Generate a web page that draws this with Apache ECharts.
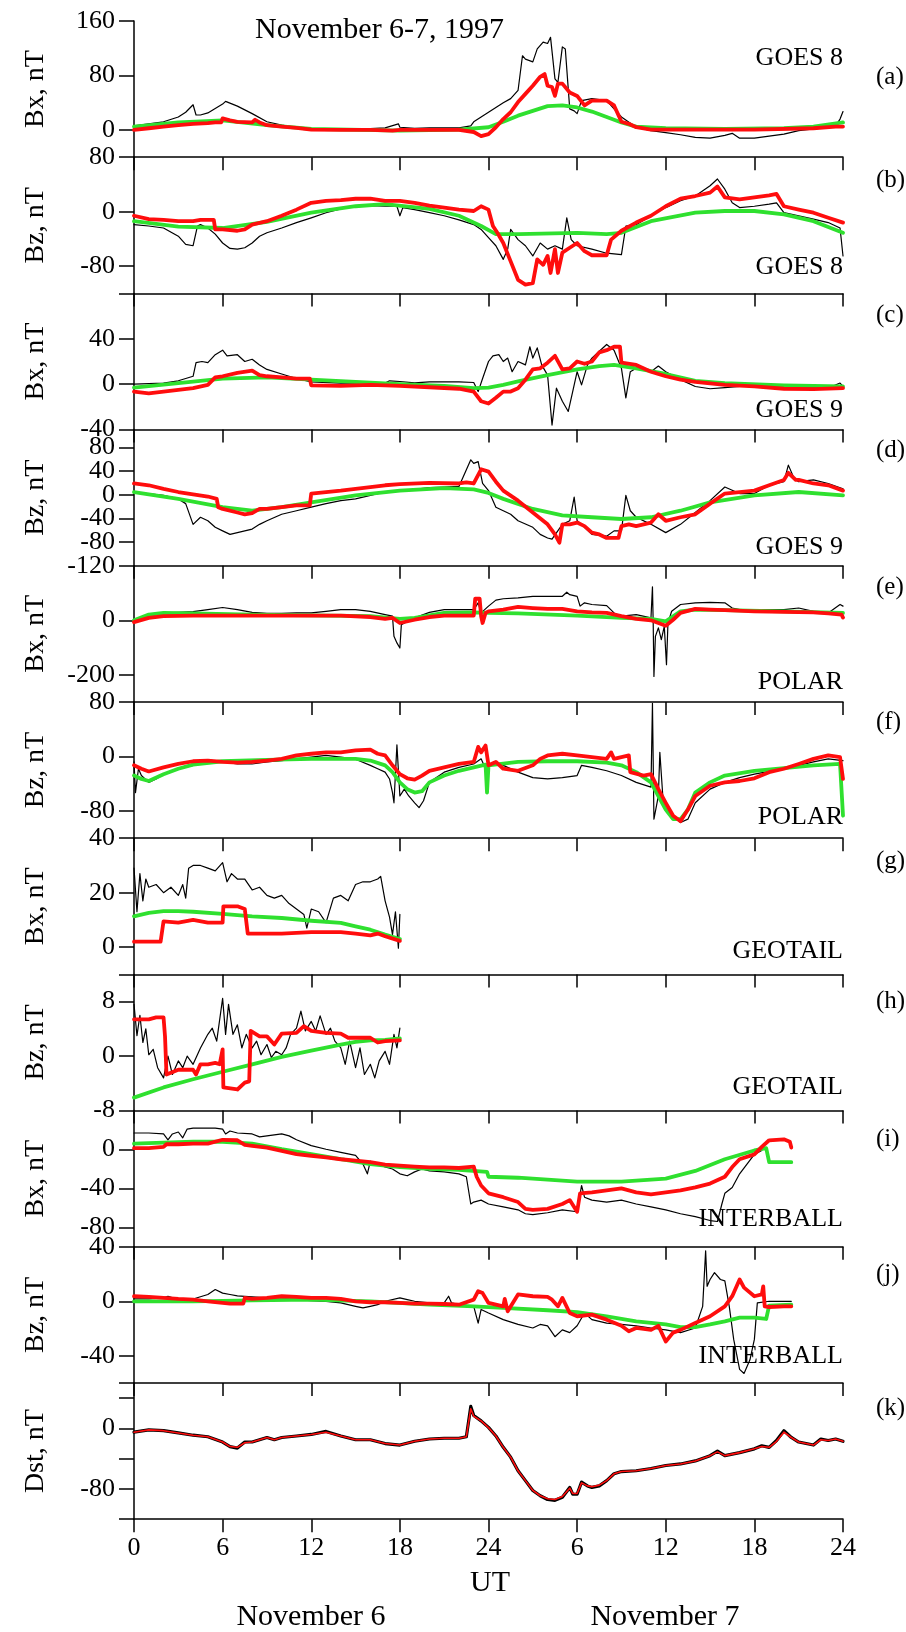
<!DOCTYPE html>
<html><head><meta charset="utf-8">
<script src="https://cdn.jsdelivr.net/npm/echarts@6/dist/echarts.min.js"></script>
<style>html,body{margin:0;padding:0;background:#fff}#c{width:906px;height:1632px}</style>
</head><body><div id="c"></div>
<script>
// ---------- x axis (hours since Nov 6 00 UT) ----------
const xTicks = [0,6,12,18,24,30,36,42,48];
const xTickLabels = ['0','6','12','18','24','6','12','18','24'];

// ---------- (a) GOES 8 Bx ----------
const aTicks = [160,80,0];
const aObs = [[0,6],[1,9],[2,12],[3,19],[3.5,26],[4,37],[4.2,22],[4.5,22],[5,25],[6,38],[6.2,42],[7,35],[8,24],[9,12],[10,7],[11,4],[12,1.5],[13,1.5],[14,1.5],[15,2],[16,2],[17,3],[17.9,9],[18,4],[19,2.5],[20,3],[21,3],[22,3],[22.8,6],[23,12],[23.5,19],[24,26],[24.5,33],[25,40],[25.5,46],[26,58],[26.3,109],[26.5,104],[27,100],[27.3,119],[27.7,129],[28,127],[28.2,136],[28.5,75],[28.7,70],[29,122],[29.2,119],[29.5,31],[29.8,28],[30,24],[30.3,43],[31,46],[32,43],[33,19],[34,4],[35,-1],[36,-4],[37,-7],[38,-11],[39,-12],[40,-8],[40.5,-5],[41,-12],[42,-12],[43,-9],[44,-6],[45,-1],[46,1.5],[47,4],[47.5,6],[47.8,16],[48,27]];
const aM1 = [[0,0],[1,2.5],[2,5],[3,7],[4,9],[5,10],[5.5,11],[5.9,11],[6,17],[6.5,14],[7,12],[8,11],[8.2,15],[8.5,11],[9,7],[10,5],[11,3],[12,0.5],[14,0],[16,0],[17.5,-1],[18,0],[20,0],[22,0],[23,-3],[23.5,-9],[24,-6],[24.5,4],[25,16],[25.5,26],[26,41],[26.5,53],[27,65],[27.5,78],[27.8,82],[28,65],[28.3,63],[28.5,50],[28.7,68],[29,68],[29.5,55],[30,50],[30.5,36],[31,43],[32,43],[32.5,36],[33,12],[33.5,9],[34,4],[35,0.5],[38,0.5],[42,0.5],[46,2.5],[47.5,5],[48,5]];
const aM2 = [[0,5],[3,11],[6,14],[9,7],[12,1.5],[18,-1],[22,0.5],[24,4],[25,12],[26,21],[27,28],[28,35],[29,36],[30,33],[31,27],[32,19],[33,11],[34,5],[36,2.5],[40,1.5],[44,2.5],[46,5],[48,11]];

// ---------- (b) GOES 8 Bz ----------
const bTicks = [80,0,-80];
const bObs = [[0,-19],[1,-21],[2,-24],[3,-36],[3.5,-48],[4,-50],[4.3,-21],[4.5,-19],[5,-24],[5.5,-33],[6,-46],[6.5,-54],[7,-55],[7.5,-53],[8,-46],[8.5,-36],[9,-31],[10,-24],[11,-16],[12,-9],[13,-1.5],[14,4],[15,8],[16,9],[17,8],[17.8,8],[18,-6],[18.2,6],[19,3],[20,-1.5],[21,-6],[22,-12],[23,-19],[23.5,-26],[24,-38],[24.5,-50],[25,-70],[25.3,-55],[25.5,-26],[26,-41],[26.5,-50],[27,-65],[27.5,-46],[28,-55],[28.5,-50],[29,-55],[29.3,-9],[29.6,-41],[30,-50],[31,-55],[32,-61],[33,-63],[33.3,-21],[34,-19],[35,-6],[36,6],[37,16],[38,23],[39,38],[39.5,48],[40,33],[40.5,13],[41,6],[42,8],[43,11],[43.5,13],[44,-1.5],[45,-6],[46,-11],[47,-16],[47.8,-24],[48,-65]];
const bM1 = [[0,-6],[1,-11],[2,-12],[3,-14],[4,-14],[4.5,-12],[5.4,-12],[5.5,-26],[6,-26],[7,-28],[7.5,-26],[8,-19],[9,-14],[10,-6],[11,3],[12,13],[13,16],[14,17],[15,19],[16,19],[17,16],[18,16],[19,13],[20,9],[21,6],[22,3],[23,1],[23.5,8],[24,3],[24.3,-21],[24.6,-31],[25,-46],[25.5,-73],[26,-100],[26.5,-107],[27,-105],[27.3,-70],[27.7,-78],[28,-65],[28.2,-90],[28.5,-55],[28.7,-90],[29,-60],[29.5,-53],[30,-46],[30.5,-58],[31,-64],[32,-64],[32.3,-41],[33,-28],[34,-16],[35,-6],[36,8],[37,19],[38,23],[39,28],[39.5,37],[40,21],[41,18],[42,21],[43,24],[43.5,26],[44,8],[45,3],[46,-1.5],[47,-9],[48,-16]];
const bM2 = [[0,-14],[3,-22],[6,-24],[9,-15],[12,-1.5],[15,8],[17,11],[20,4],[22,-6],[23.5,-21],[24.5,-33],[26,-33],[30,-31],[32,-33],[33,-31],[35,-14],[38,-1.5],[40,1],[42,1],[44,-4],[46,-14],[48,-31]];

// ---------- (c) GOES 9 Bx ----------
const cTicks = [40,0,-40];
const cObs = [[0,0],[2,1],[3,3],[4,7],[4.2,19],[4.6,20],[5,19],[5.5,26],[6,30],[6.3,25],[7,26],[7.5,20],[8,22],[8.5,17],[9,13],[10,9],[11,5],[12,2],[14,1],[16,1],[17,1],[17.3,3],[18,2.4],[19,1.2],[20,2],[22,2],[23,1.5],[23.3,-6.5],[23.6,5],[24,20],[24.3,25],[24.7,26],[25,20],[25.3,23],[25.6,11],[26,20],[26.5,17],[26.8,33],[27,23],[27.3,32],[27.6,17],[28,8],[28.3,-36],[28.6,-3.5],[29,-15],[29.4,-24],[29.7,-6.5],[30,11],[30.3,-0.6],[30.7,17],[31,23],[31.5,29],[32,35],[32.5,30],[33,14],[33.3,-12],[33.6,11],[34,14],[35,11],[35.5,16],[36,11],[37,4],[38,-2],[39,-4],[40,-3],[41,-2],[42,-1],[43,-3.5],[44,-2],[45,-3.5],[46,-3],[47,-3.5],[47.8,1],[48,-2]];
const cM1 = [[0,-6.5],[1,-8],[2,-6.5],[3,-5],[4,-3.5],[5,-0.6],[5.5,6],[6,7],[7,10],[8,12],[8.5,8],[9,7],[10,6],[11,5],[11.9,5],[12,-1],[14,-1.5],[16,-0.6],[18,-1.5],[20,-2.7],[22,-4],[23,-6.5],[23.5,-15],[24,-17],[24.5,-12],[25,-6.5],[25.5,-6.5],[26,-3.5],[26.5,4],[27,13],[27.5,14],[28,19],[28.5,25],[29,13],[29.5,14],[30,20],[30.5,18],[31,20],[31.5,28],[32,30],[32.5,33],[32.9,33],[33,19],[34,17],[35,11],[36,7],[37,4],[38,2],[40,-0.6],[42,-2],[44,-4],[46,-4.4],[48,-3.5]];
const cM2 = [[0,-3],[3,1],[6,5],[9,6],[12,4],[15,2],[18,0],[21,-1.5],[23,-3.5],[24,-3],[25,-0.6],[26,2.4],[28,8],[30,13],[31.5,16],[32.5,17],[34,14],[36,9],[38,3],[40,1],[44,-1],[48,-2]];

// ---------- (d) GOES 9 Bz ----------
const dTicks = [80,0,-80];
const dTicksAlt = [40,-40,-120];
const dObs = [[0,4.6],[2,-1],[3,-7],[3.5,-15],[4,-50],[4.5,-38],[5,-44],[5.5,-55],[6,-61],[6.5,-67],[7,-64],[7.5,-61],[8,-58],[8.5,-50],[9,-44],[10,-33],[11,-27],[12,-21],[13,-15],[14,-10],[15,-7],[16,-1],[17,4.6],[18,7],[19,9],[20,12],[21,13],[22,14],[22.8,59],[23,53],[23.3,56],[23.6,19],[24,7],[24.5,-21],[25,-27],[25.5,-33],[26,-44],[27,-55],[27.5,-67],[28,-73],[28.3,-75],[29,-50],[29.5,-44],[29.8,-4],[30,-44],[30.5,-55],[31,-67],[32,-70],[32.5,-61],[33,-61],[33.3,-1],[33.6,-27],[34,-38],[35,-50],[36,-64],[37,-50],[38,-30],[39,-10],[40,13],[41,2],[42,2],[43,16],[44,22],[44.3,50],[44.7,27],[45,22],[46,25],[47,19],[48,10]];
const dM1 = [[0,19],[1,16],[2,10],[3,4.6],[4,0.6],[5,-3],[5.6,-7],[5.7,-21],[6,-24],[7,-30],[7.5,-33],[8,-31],[8.5,-24],[9,-24],[10,-21],[11,-18],[11.9,-18],[12,2],[13,4.6],[14,7],[15,10],[16,13],[17,16],[18,18],[20,20],[22,19],[22.5,21],[23,19],[23.5,43],[24,39],[24.5,22],[25,7],[26,-10],[27,-30],[28,-50],[28.5,-67],[28.8,-81],[29,-50],[29.5,-50],[30,-47],[30.5,-53],[31,-64],[31.5,-67],[32,-73],[32.8,-73],[33,-53],[33.5,-50],[34,-53],[35,-47],[35.5,-33],[36,-44],[37,-38],[38,-33],[39,-15],[40,2],[41,4.6],[42,7],[43,16],[44,25],[44.3,37],[44.8,25],[45,25],[46,19],[47,16],[48,7]];
const dM2 = [[0,4.6],[3,-7],[6,-21],[8,-27],[10,-21],[12,-13],[15,-1],[18,7],[21,11],[23,9],[24,3],[25,-7],[27,-24],[29,-35],[31,-38],[33,-41],[35,-38],[37,-27],[39,-13],[42,-1],[45,4.6],[48,-1]];

// ---------- (e) POLAR Bx ----------
const eTicks = [0,-200];
const eObs = [[0,-7],[1,15],[2,27],[3,29],[4,32],[5,39],[6,47],[7,39],[8,29],[9,25],[10,25],[11,27],[12,27],[13,33],[14,39],[15,39],[16,33],[17,21],[17.5,15],[17.6,-59],[17.8,-83],[18,-102],[18.1,-16],[18.5,-4],[19,9],[20,29],[21,39],[22,39],[23,39],[23.3,64],[23.5,27],[24,52],[24.5,74],[25,79],[26,82],[27,88],[28,88],[29,88],[29.3,103],[29.5,94],[30,88],[30.2,52],[30.5,64],[31,58],[32,54],[32.5,27],[33,15],[34,21],[35,9],[35.1,123],[35.15,-10],[35.2,-206],[35.3,-59],[35.5,-28],[35.7,-71],[35.9,-22],[36.05,-163],[36.15,-10],[36.4,33],[37,58],[38,64],[39,66],[40,64],[40.5,45],[41,39],[42,39],[44,39],[45,45],[46,33],[47,27],[47.8,58],[48,52]];
const eM1 = [[0,-7],[1,9],[2,15],[4,17],[8,17],[12,17],[14,17],[16,12],[17,5],[17.5,9],[18,-10],[19,2],[20,12],[21,17],[23,17],[23.1,79],[23.4,79],[23.5,15],[23.6,-10],[23.8,27],[24,33],[25,39],[26,49],[27,45],[28,42],[29,42],[30,33],[31,29],[32,27],[33,15],[34,5],[35,0],[36,-20],[36.5,2],[37,27],[38,42],[39,39],[40,37],[42,33],[44,31],[46,29],[47,25],[47.9,21],[48,10]];
const eM2 = [[0,0],[1,21],[2,27],[4,25],[8,21],[12,18],[16,15],[18,5],[19,9],[21,27],[23,29],[24,27],[26,25],[30,17],[33,9],[35,5],[36,-4],[37,33],[38,39],[40,37],[44,33],[48,27]];

// ---------- (f) POLAR Bz ----------
const fTicks = [80,0,-80];
const fObs = [[0,-8],[0.1,-53],[0.3,-18],[0.5,-28],[1,-38],[1.5,-33],[2,-26],[3,-18],[4,-13],[5,-8],[6,-8],[7,-11],[8,-11],[9,-8],[10,-6],[11,-3.5],[12,-1],[13,1.5],[14,-1],[15,-4],[16,-13],[16.5,-18],[17,-23],[17.3,-33],[17.5,-53],[17.6,-68],[17.8,17],[18,-58],[18.3,-48],[18.6,-58],[19,-68],[19.3,-75],[19.6,-65],[20,-38],[21,-23],[22,-16],[23,-11],[23.5,-3.5],[23.8,-18],[24.5,-8],[25,-13],[26,-23],[27,-31],[28,-33],[29,-31],[30,-28],[30.3,-13],[31,-16],[32,-21],[33,-28],[34,-38],[35,-45],[35.1,78],[35.2,-92],[35.5,-58],[35.6,6],[35.8,-58],[36,-68],[36.5,-87],[37,-97],[37.5,-92],[38,-68],[39,-48],[40,-38],[41,-31],[42,-26],[43,-22],[44,-18],[45,-13],[46,-8],[47,-3.5],[48,-6]];
const fM1 = [[0,-13],[0.5,-18],[1,-22],[2,-16],[3,-11],[4,-7],[5,-6],[6,-8],[7,-9],[8,-8],[9,-6],[10,-3.5],[11,1.5],[12,4],[13,6],[14,6],[15,9],[16,10],[16.5,4],[17,1.5],[17.5,-13],[18,-26],[18.5,-32],[19,-34],[19.5,-28],[20,-21],[21,-16],[22,-11],[23,-8],[23.3,14],[23.5,6],[23.8,16],[24,-13],[24.5,-8],[25,-18],[26,-21],[27,-13],[27.5,-3.5],[28,1.5],[29,4],[30,1.5],[31,-1],[32,-3.5],[32.3,6],[32.5,-3.5],[33,-1],[33.5,1.5],[33.6,-23],[34.5,-28],[35,-26],[35.5,-48],[36,-68],[36.5,-87],[37,-95],[37.5,-78],[38,-58],[39,-43],[40,-38],[41,-36],[42,-32],[43,-23],[44,-18],[45,-11],[46,-3.5],[47,1.5],[47.8,-1],[48,-33]];
const fM2 = [[0,-28],[0.5,-33],[1,-36],[2,-26],[3,-18],[4,-12],[6,-7],[9,-5],[12,-3.5],[15,-3.5],[16,-6],[17,-13],[17.5,-23],[18,-38],[18.5,-48],[19,-53],[19.5,-51],[20,-38],[21,-28],[22,-21],[23,-16],[23.8,-12],[23.9,-53],[24,-13],[26,-8],[28,-7],[30,-7],[32,-9],[33,-13],[34,-23],[35,-38],[35.5,-58],[36,-78],[36.5,-92],[37,-92],[37.5,-78],[38,-53],[39,-38],[40,-28],[42,-21],[44,-17],[46,-13],[47.8,-11],[48,-87]];

// ---------- (g) GEOTAIL Bx ----------
const gTicks = [40,20,0];
const gObs = [[0,29],[0.2,13],[0.4,27],[0.6,17],[0.8,25],[1,22],[1.5,23],[2,20],[2.5,22],[3,19],[3.3,23],[3.5,18],[3.7,29],[4,30],[4.5,30],[5,29],[5.5,28],[6,31],[6.3,24],[6.6,27],[7,25],[7.5,25],[8,21],[8.5,22],[9,19],[9.5,18],[10,19],[10.5,16],[11,14],[11.5,12],[11.7,7],[12,14],[12.5,13],[13,9],[13.5,18],[14,19],[14.5,17],[15,23],[15.5,24],[16,24],[16.5,25],[16.7,26],[17,17],[17.3,11],[17.5,4.6],[17.7,13],[17.9,-0.4],[18,12]];
const gM1 = [[0,2],[1,2],[1.8,2],[2,9.5],[3,9],[4,10],[5,9],[6,9],[6.05,15],[7,15],[7.5,14],[7.7,5],[8,5],[10,5],[12,5.5],[14,5.5],[15,5],[16,4.3],[16.5,5],[17,4],[18,2.3]];
const gM2 = [[0,11.3],[1,12.6],[2,13.2],[3,13.2],[4,13],[6,12.2],[8,11.3],[10,10.7],[12,9.7],[14,8.9],[15,7.6],[16,6.4],[17,4.6],[18,3]];

// ---------- (h) GEOTAIL Bz ----------
const hTicks = [8,0,-8];
const hObs = [[0,7.6],[0.2,3],[0.4,6],[0.6,2],[0.8,4],[1,0.2],[1.3,1],[1.6,-1.7],[2,-3.2],[2.3,0],[2.6,-2.7],[3,-0.7],[3.3,-1.7],[3.6,0],[4,-1.2],[4.5,1.2],[5,3.2],[5.3,4.1],[5.6,2.2],[6,8.5],[6.2,3.2],[6.4,7.6],[6.7,3.2],[7,4.6],[7.3,1.2],[7.6,3.2],[8,1.2],[8.3,2.2],[8.6,0.2],[9,1.7],[9.3,-0.2],[9.6,0.7],[10,0.2],[10.3,1.2],[10.6,3.2],[11,4.1],[11.3,6.6],[11.6,3.7],[12,5.1],[12.3,3.7],[12.6,5.9],[13,3.2],[13.3,4.1],[13.6,2.2],[14,1.2],[14.3,-1.2],[14.6,2.2],[15,-1.7],[15.3,1.2],[15.6,-2.7],[16,-1.2],[16.3,-3.2],[16.6,-0.7],[17,0.7],[17.3,-1.2],[17.6,3.2],[17.8,1.2],[18,4.1]];
const hM1 = [[0,5.4],[1,5.4],[1.5,5.7],[2,5.7],[2.1,2.9],[2.2,-2.7],[3,-2],[4,-2],[4.2,-2.7],[4.5,-1.2],[5,-1.2],[5.5,-1],[5.8,-1.2],[6,1],[6.05,-4.6],[7,-4.9],[7.5,-3.9],[7.8,-3.7],[7.9,3.7],[8.5,2.9],[9,2.9],[9.5,1.7],[10,3.3],[11,3.4],[11.5,4.4],[12,3.7],[13,3.4],[14,3.3],[14.5,2.7],[15,2.7],[16,2.7],[16.5,2],[17,2.2],[18,2.3]];
const hM2 = [[0,-6.1],[2,-4.6],[4,-3.4],[6,-2.3],[8,-1.2],[10,-0.1],[12,0.8],[14,1.7],[15,2.1],[16,2.3],[17,2.4],[18,2.6]];

// ---------- (i) INTERBALL Bx ----------
const iTicks = [0,-40,-80];
const iObs = [[0,17],[1,17],[2,16],[2.3,10],[2.6,16],[3,18],[3.3,12],[3.6,21],[4,22],[5,22],[5.5,22],[6,21],[6.2,16],[6.5,19],[7,17],[8,16],[8.5,13],[9,14],[10,16],[10.5,14],[11,10],[12,4],[13,0.3],[14,-3],[15,-6],[15.5,-15],[15.8,-25],[16,-12],[16.5,-15],[17,-18],[17.5,-20],[18,-25],[18.5,-27],[19,-23],[19.5,-20],[20,-22],[21,-23],[22,-25],[22.5,-28],[22.8,-56],[23,-54],[23.5,-52],[24,-56],[25,-59],[26,-62],[26.5,-66],[27,-67],[28,-65],[29,-62],[30,-64],[30.3,-37],[30.5,-49],[31,-52],[32,-54],[33,-52],[34,-56],[35,-59],[36,-62],[37,-66],[38,-69],[39,-73],[39.5,-74],[39.8,-56],[40,-45],[40.5,-39],[41,-25],[41.5,-15],[42,-5],[42.5,-1]];
const iM1 = [[0,1.4],[1,1.4],[2,2.7],[2.2,5.4],[3,5.4],[4,6],[5,6],[6,10],[7,9.5],[7.5,4.7],[8,3.7],[9,2],[10,-1.4],[11,-4.7],[12,-6.4],[13,-8],[14,-10],[15,-11.5],[16,-13],[17,-15.6],[18,-16.6],[19,-17.6],[20,-18.3],[21,-18.3],[22,-19],[23,-17.6],[23.2,-28],[23.5,-37],[24,-45],[25,-49],[26,-54],[26.5,-61],[27,-62],[28,-61],[29,-56],[29.5,-52],[30,-64],[30.2,-45],[31,-44],[32,-42],[33,-40],[34,-44],[35,-46],[36,-44],[37,-42],[38,-39],[39,-35],[40,-28],[40.5,-18],[41,-10],[42,-5],[42.5,2.7],[43,9.5],[44,10.5],[44.4,8],[44.5,2]];
const iM2 = [[0,6],[2,7],[4,8],[6,8],[8,6],[10,0.3],[12,-4.7],[14,-10],[16,-15],[18,-18],[20,-20],[22,-21],[23.9,-23],[24,-28],[26,-29],[28,-31],[30,-33],[33,-33],[36,-30],[38,-22],[40,-10],[42,-1],[42.8,1.4],[43,-13],[44.5,-13]];

// ---------- (j) INTERBALL Bz ----------
const jTicks = [40,0,-40];
const jObs = [[0,1.7],[1,1.7],[2,2.5],[2.3,3.7],[3,1.2],[4,1.7],[5,5],[5.5,8.6],[6,6],[6.5,5],[7,4],[8,3.2],[9,2.5],[10,2.5],[11,1.2],[12,0.5],[13,0],[14,-1.2],[15,-3.7],[15.5,-4.9],[16,-3.7],[16.5,-2.5],[17,0],[18,2.5],[18.5,1.2],[19,0],[20,-1.2],[21,-1.2],[21.3,3.7],[21.5,-1.2],[22,-2.5],[23,-3.7],[23.3,-16],[23.5,-6],[24,-8.6],[25,-13.5],[26,-17],[27,-19.6],[27.5,-17],[28,-18],[28.5,-26],[29,-21],[29.5,-23],[30,-18],[30.5,-8.6],[31,-13.5],[32,-16],[33,-17],[34,-18],[35,-19.6],[36,-21],[37,-23],[38,-19.6],[38.5,-3.7],[38.7,37],[38.8,11],[39,16],[39.3,21],[39.7,16],[40,15],[40.3,-3.7],[40.6,-28],[41,-50],[41.3,-53],[41.7,-43],[42,-28],[42.2,-1.2],[43,0],[44.5,0]];
const jM1 = [[0,3.7],[1,3.2],[2,2.5],[3,1.7],[4,1.2],[5,0],[6,-1.2],[6.5,-1.7],[7.4,-1.7],[7.5,2.5],[8,1.7],[9,2.5],[10,3.7],[11,3.2],[12,2.5],[13,2.5],[14,1.7],[15,0],[16,-0.7],[17,-0.7],[18,-1.2],[19,-1.7],[20,-1.7],[21,-2],[22,-2.5],[23,1.2],[23.3,7.4],[23.6,6],[24,-1.2],[25,-3.7],[25.1,1.7],[25.3,-7.4],[26,5],[27,3.7],[28,3.2],[28.3,1.2],[28.7,-3.7],[29,2.5],[29.5,-8.6],[30,-11],[31,-9.8],[32,-13.5],[33,-18],[33.5,-22],[34,-19.6],[35,-21],[35.5,-18],[36,-29.5],[36.5,-23],[37,-21],[38,-16],[39,-11],[40,-3.7],[40.5,3.7],[41,16],[41.3,10],[42,3.7],[42.5,5],[42.6,11],[42.7,-3.7],[43,-4.2],[44,-3.7],[44.5,-3.7]];
const jM2 = [[0,0],[4,0],[8,0.7],[12,1.2],[16,0],[20,-2.5],[23,-3.7],[25,-4.9],[28,-6.6],[30,-8],[32,-11],[34,-14.7],[36,-17],[37,-19],[38,-19],[39,-17],[40,-14.7],[41,-12],[42,-12],[42.8,-13],[43,-3.2],[44.5,-2.5]];

// ---------- (k) Dst ----------
const kTicks = [0,-80];
const kMinor = [40,-40];
const dstObs = [[0,-5],[1,-2],[2,-3],[3,-6],[4,-9],[5,-11],[6,-18],[6.5,-24],[7,-26],[7.5,-18],[8,-18],[9,-12],[9.5,-15],[10,-12],[11,-10],[12,-8],[13,-4],[14,-10],[15,-15],[16,-15],[17,-20],[18,-22],[19,-17],[20,-14],[21,-13],[22,-13],[22.5,-11],[22.8,29],[23,17],[23.5,10],[24,1.3],[24.5,-10],[25,-25],[25.5,-38],[26,-56],[26.5,-69],[27,-82],[27.5,-89],[28,-94],[28.5,-95],[29,-91],[29.5,-78],[29.7,-87],[30,-87],[30.3,-71],[30.7,-76],[31,-78],[31.5,-76],[32,-69],[32.5,-60],[33,-57],[34,-56],[35,-53],[36,-49],[37,-47],[38,-43],[39,-36],[39.5,-30],[40,-36],[41,-32],[42,-27],[42.5,-23],[43,-25],[43.5,-16],[44,-3],[44.5,-12],[45,-18],[46,-22],[46.5,-14],[47,-16],[47.5,-14],[48,-17]];
const dstModel = [[0,-5],[1,-2],[2,-3],[3,-6],[4,-9],[5,-11],[6,-18],[6.5,-24],[7,-25],[7.5,-19],[8,-18],[9,-12],[9.5,-15],[10,-12],[11,-10],[12,-8],[13,-5],[14,-10],[15,-15],[16,-15],[17,-20],[18,-22],[19,-17],[20,-14],[21,-13],[22,-13],[22.5,-11],[22.8,26],[23,16],[23.5,10],[24,1],[24.5,-10],[25,-25],[25.5,-38],[26,-56],[26.5,-69],[27,-82],[27.5,-89],[28,-93],[28.5,-94],[29,-90],[29.5,-79],[29.7,-86],[30,-86],[30.3,-72],[30.7,-76],[31,-77],[31.5,-75],[32,-69],[32.5,-60],[33,-57],[34,-56],[35,-53],[36,-49],[37,-47],[38,-43],[39,-36],[39.5,-31],[40,-36],[41,-32],[42,-27],[42.5,-24],[43,-25],[43.5,-17],[44,-5],[44.5,-12],[45,-18],[46,-22],[46.5,-15],[47,-16],[47.5,-14],[48,-17]];

// ---------- panels ----------
const FONT = '"Liberation Serif","DejaVu Serif",serif';
const panels = [
  {name:'Bx, nT', min:-40, max:160, ticks:aTicks, lines:[aObs,aM2,aM1]},
  {name:'Bz, nT', min:-120, max:80, ticks:bTicks, lines:[bObs,bM2,bM1]},
  {name:'Bx, nT', min:-40, max:80, ticks:cTicks, lines:[cObs,cM2,cM1]},
  {name:'Bz, nT', min:-120, max:110, ticks:dTicks, alt:dTicksAlt, lines:[dObs,dM2,dM1]},
  {name:'Bx, nT', min:-300, max:200, ticks:eTicks, lines:[eObs,eM2,eM1]},
  {name:'Bz, nT', min:-120, max:80, ticks:fTicks, lines:[fObs,fM2,fM1]},
  {name:'Bx, nT', min:-10, max:40, ticks:gTicks, lines:[gObs,gM2,gM1]},
  {name:'Bz, nT', min:-8, max:12, ticks:hTicks, lines:[hObs,hM2,hM1]},
  {name:'Bx, nT', min:-100, max:40, ticks:iTicks, lines:[iObs,iM2,iM1]},
  {name:'Bz, nT', min:-60, max:40, ticks:jTicks, lines:[jObs,jM2,jM1]},
  {name:'Dst, nT', min:-120, max:60, ticks:kTicks, minor:kMinor, lines:[dstObs,null,dstModel]}
];
const tags = ['GOES 8','GOES 8','GOES 9','GOES 9','POLAR','POLAR','GEOTAIL','GEOTAIL','INTERBALL','INTERBALL',null];
const letters = ['(a)','(b)','(c)','(d)','(e)','(f)','(g)','(h)','(i)','(j)','(k)'];

// ---------- layout ----------
const TOP0 = 21, PH = 136.2, LEFT = 134, RIGHT = 63;
const tagY = [58,267,410,547,682,817,951,1087,1219,1356];
const letterY = [77,180,315,450,587,722,861,1001,1139,1274,1408];
const BLACK='#000', RED='#ff0d0d', GREEN='#2fe02f';

const grids=[], xAxes=[], yAxes=[], extraY=[], series=[];
const yLabel = (vals)=>({customValues:vals, interval:0, margin:19, fontSize:26, fontFamily:FONT, color:BLACK,
      lineHeight:20, hideOverlap:false, showMinLabel:true, showMaxLabel:true, formatter:v=>String(v)});
panels.forEach((p,i)=>{
  grids.push({left:LEFT, right:RIGHT, top:TOP0+i*PH, height:PH, containLabel:false});
  const last = i===panels.length-1;
  xAxes.push({gridIndex:i, type:'value', min:0, max:48,
    axisLine:{show:true, onZero:false, lineStyle:{color:BLACK,width:1.5}},
    axisTick:{show:true, length:13, customValues:xTicks, lineStyle:{color:BLACK,width:1.5}},
    axisLabel:{show:last, customValues:xTicks, interval:0, margin:16, fontSize:26, fontFamily:FONT, color:BLACK,
      hideOverlap:false, showMinLabel:true, showMaxLabel:true,
      formatter:v=>xTickLabels[xTicks.indexOf(v)]},
    splitLine:{show:false}});
  const tickVals = p.ticks.concat(p.alt||[]).concat(p.minor||[]).concat([p.min]);
  yAxes.push({gridIndex:i, type:'value', min:p.min, max:p.max,
    name:p.name, nameLocation:'middle', nameGap:84, nameRotate:90,
    nameTextStyle:{fontFamily:FONT, fontSize:28, color:BLACK},
    axisLine:{show:true, onZero:false, lineStyle:{color:BLACK,width:1.5}},
    axisTick:{show:true, length:15, customValues:tickVals, lineStyle:{color:BLACK,width:1.5}},
    axisLabel:yLabel(p.ticks),
    splitLine:{show:false}});
  if (p.alt) {
    extraY.push({gridIndex:i, type:'value', min:p.min, max:p.max, position:'left', offset:0,
      axisLine:{show:false}, axisTick:{show:false}, splitLine:{show:false},
      axisLabel:yLabel(p.alt)});
  }
  const styles = last
    ? [{c:BLACK,w:3.2},{c:GREEN,w:3.5},{c:RED,w:1.6}]
    : [{c:BLACK,w:1.2},{c:GREEN,w:3.8},{c:RED,w:3.8}];
  p.lines.forEach((d,k)=>{
    if(!d) return;
    series.push({type:'line', xAxisIndex:i, yAxisIndex:i, data:d, showSymbol:false, symbol:'none',
      lineStyle:{color:styles[k].c, width:styles[k].w, join:'round', cap:'round'}, clip:true, z:2+k, silent:true});
  });
});

const graphics = [];
const txt = (text,x,y,size,align)=>graphics.push({type:'text', x:x, y:y, z:100, silent:true,
  style:{text:text, fill:BLACK, font:size+'px '+FONT, textAlign:align, textVerticalAlign:'middle'}});
txt('November 6-7, 1997', 255, 30, 30, 'left');
tags.forEach((t,i)=>{ if(t) txt(t, 843, tagY[i], 26, 'right'); });
letters.forEach((t,i)=>txt(t, 876, letterY[i], 25, 'left'));
txt('UT', 490, 1583, 30, 'center');
txt('November 6', 311, 1617, 30, 'center');
txt('November 7', 665, 1617, 30, 'center');

const chart = echarts.init(document.getElementById('c'), null, {renderer:'canvas'});
chart.setOption({animation:false, backgroundColor:'#fff', textStyle:{fontFamily:FONT},
  grid:grids, xAxis:xAxes, yAxis:yAxes.concat(extraY), series:series, graphic:graphics});
</script></body></html>
